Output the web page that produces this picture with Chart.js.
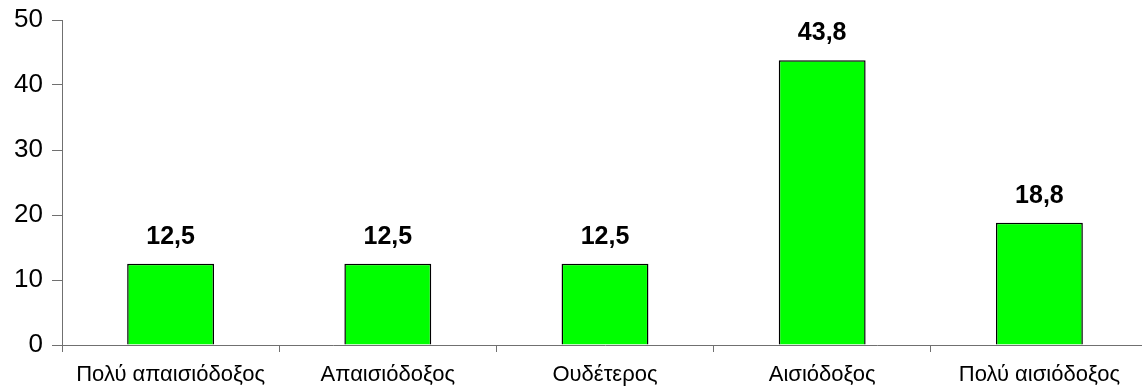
<!DOCTYPE html>
<html>
<head>
<meta charset="utf-8">
<script src="https://cdn.jsdelivr.net/npm/chart.js@4.4.1/dist/chart.umd.min.js"></script>
<style>
  html, body { margin: 0; padding: 0; background: #fff; overflow: hidden; }
  #wrap { width: 1148px; height: 390px; position: relative; }
</style>
</head>
<body>
<div id="wrap"><canvas id="bar"></canvas></div>
<script>
// categories and values
var categories = ["Πολύ απαισιόδοξος", "Απαισιόδοξος", "Ουδέτερος", "Αισιόδοξος", "Πολύ αισιόδοξος"];
var values = [12.5, 12.5, 12.5, 43.8, 18.8];
var yTicks = [0, 10, 20, 30, 40, 50];

var FONT = '"Liberation Sans", Arial, sans-serif';

// draws the value above each bar, greek style decimal comma
var valueLabels = {
  id: 'valueLabels',
  afterDatasetsDraw: function (chart) {
    var ctx = chart.ctx;
    var meta = chart.getDatasetMeta(0);
    ctx.save();
    ctx.font = 'bold 25px ' + FONT;
    ctx.fillStyle = '#000';
    ctx.textAlign = 'center';
    ctx.textBaseline = 'alphabetic';
    meta.data.forEach(function (bar, i) {
      var txt = values[i].toFixed(1).replace('.', ',');
      ctx.fillText(txt, bar.x, bar.y - 20);
    });
    ctx.restore();
  }
};

var ctx = document.getElementById('bar');
var myChart = new Chart(ctx, {
  type: 'bar',
  data: {
    labels: categories,
    datasets: [{
      data: values,
      backgroundColor: '#00ff00',
      borderColor: '#000',
      borderWidth: 1.5,
      barPercentage: 0.8,
      categoryPercentage: 0.5
    }]
  },
  options: {
    responsive: true,
    maintainAspectRatio: false,
    animation: false,
    layout: { padding: { left: 0, top: 20, right: 0, bottom: 0 } },
    plugins: {
      legend: { display: false },
      tooltip: { enabled: false }
    },
    scales: {
      x: {
        offset: true,
        afterFit: function (axis) { axis.height = 45; },
        grid: {
          offset: true,
          drawOnChartArea: false,
          tickLength: 7,
          color: '#707070'
        },
        border: { color: '#707070', width: 1 },
        ticks: {
          color: '#000',
          padding: 10,
          maxRotation: 0,
          font: { family: FONT, size: 22 }
        }
      },
      y: {
        min: 0,
        max: 50,
        afterFit: function (axis) {
          axis.width = 62;
          axis.paddingTop = 0;
          axis.paddingBottom = 0;
        },
        afterBuildTicks: function (axis) {
          axis.ticks = yTicks.map(function (v) { return { value: v }; });
        },
        grid: {
          drawOnChartArea: false,
          tickLength: 10,
          color: '#707070'
        },
        border: { color: '#707070', width: 1 },
        ticks: {
          color: '#000',
          padding: 9,
          font: { family: FONT, size: 26 }
        }
      }
    }
  },
  plugins: [valueLabels]
});
</script>
</body>
</html>
